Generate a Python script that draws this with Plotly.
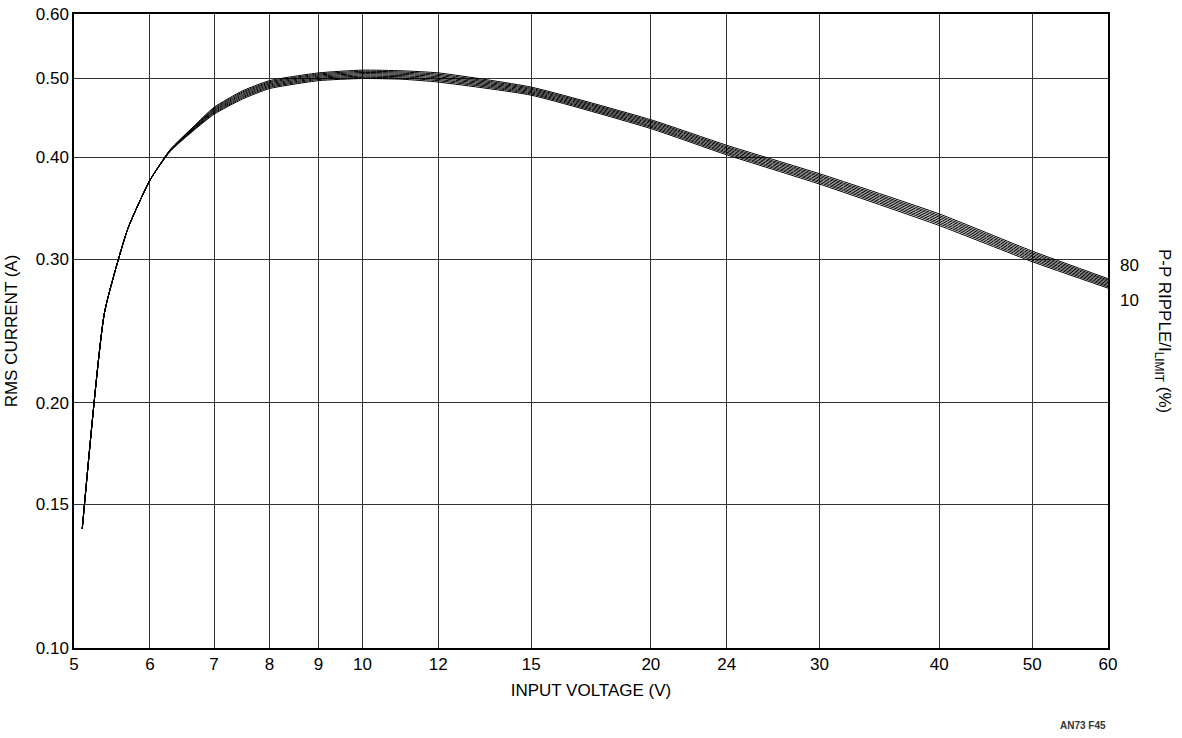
import math
import plotly.graph_objects as go

# input voltage (V)
vin = [5.1, 5.38, 5.69, 6.0, 6.3, 6.67, 7.0, 7.5, 8, 9, 10, 11, 12, 15, 20, 24, 30, 40, 50, 60]

# RMS current (A) for each p-p ripple / ILIMIT (%) curve
rms_10 = [0.140, 0.258, 0.327, 0.375, 0.4070, 0.4320, 0.4520, 0.4720, 0.4860, 0.4970, 0.5000, 0.4990, 0.4950, 0.4770, 0.4340, 0.4030, 0.3710, 0.3300, 0.2980, 0.2765]
rms_20 = [0.140, 0.258, 0.327, 0.375, 0.4073, 0.4327, 0.4533, 0.4736, 0.4876, 0.4986, 0.5017, 0.5007, 0.4969, 0.4786, 0.4356, 0.4046, 0.3726, 0.3316, 0.2993, 0.2776]
rms_30 = [0.140, 0.258, 0.327, 0.375, 0.4076, 0.4334, 0.4546, 0.4751, 0.4891, 0.5001, 0.5034, 0.5024, 0.4987, 0.4801, 0.4371, 0.4061, 0.3741, 0.3331, 0.3006, 0.2786]
rms_40 = [0.140, 0.258, 0.327, 0.375, 0.4079, 0.4341, 0.4559, 0.4767, 0.4907, 0.5017, 0.5051, 0.5041, 0.5006, 0.4817, 0.4387, 0.4077, 0.3757, 0.3347, 0.3019, 0.2797]
rms_50 = [0.140, 0.258, 0.327, 0.375, 0.4081, 0.4349, 0.4571, 0.4783, 0.4923, 0.5033, 0.5069, 0.5059, 0.5024, 0.4833, 0.4403, 0.4093, 0.3773, 0.3363, 0.3031, 0.2808]
rms_60 = [0.140, 0.258, 0.327, 0.375, 0.4084, 0.4356, 0.4584, 0.4799, 0.4939, 0.5049, 0.5086, 0.5076, 0.5043, 0.4849, 0.4419, 0.4109, 0.3789, 0.3379, 0.3044, 0.2819]
rms_70 = [0.140, 0.258, 0.327, 0.375, 0.4087, 0.4363, 0.4597, 0.4814, 0.4954, 0.5064, 0.5103, 0.5093, 0.5061, 0.4864, 0.4434, 0.4124, 0.3804, 0.3394, 0.3057, 0.2829]
rms_80 = [0.140, 0.258, 0.327, 0.375, 0.4090, 0.4370, 0.4610, 0.4830, 0.4970, 0.5080, 0.5120, 0.5110, 0.5080, 0.4880, 0.4450, 0.4140, 0.3820, 0.3410, 0.3070, 0.2840]

x_ticks = [5, 6, 7, 8, 9, 10, 12, 15, 20, 24, 30, 40, 50, 60]
y_ticks = [0.10, 0.15, 0.20, 0.30, 0.40, 0.50, 0.60]

FONT = "Liberation Sans Narrow, Arial Narrow, Liberation Sans, Arial"

fig = go.Figure()

for name, ys in [("10", rms_10), ("20", rms_20), ("30", rms_30), ("40", rms_40),
                 ("50", rms_50), ("60", rms_60), ("70", rms_70), ("80", rms_80)]:
    fig.add_trace(go.Scatter(
        x=vin, y=ys, name=name, mode="lines",
        line=dict(color="black", width=1.0, shape="spline", smoothing=0.5),
    ))

fig.update_xaxes(
    type="log", range=[math.log10(5), math.log10(60)],
    tickvals=x_ticks, ticktext=[str(v) for v in x_ticks],
    showgrid=True, gridcolor="#333", gridwidth=1,
    showline=True, linecolor="black", linewidth=1.5, mirror=True,
    ticks="", zeroline=False, automargin=False,
    title=dict(text="INPUT VOLTAGE (V)", font=dict(size=17), standoff=11),
)
fig.update_yaxes(
    type="log", range=[math.log10(0.1), math.log10(0.6)],
    tickvals=y_ticks, ticktext=[f"{v:.2f}" for v in y_ticks],
    showgrid=True, gridcolor="#333", gridwidth=1,
    showline=True, linecolor="black", linewidth=1.5, mirror=True,
    ticks="", zeroline=False, automargin=False,
    title=dict(text="RMS CURRENT (A)", font=dict(size=17), standoff=14),
)

# end labels for the curve family (log axis -> annotation y in log10 units)
fig.add_annotation(x=1.0, y=math.log10(rms_80[-1]), xref="paper", yref="y", text="80",
                   showarrow=False, xanchor="left", yanchor="bottom", xshift=10, yshift=2)
fig.add_annotation(x=1.0, y=math.log10(rms_10[-1]), xref="paper", yref="y", text="10",
                   showarrow=False, xanchor="left", yanchor="top", xshift=10, yshift=-1)
fig.add_annotation(x=1.0, y=0.5, xref="paper", yref="paper",
                   text="P-P RIPPLE/I<sub>LIMIT</sub> (%)", textangle=90,
                   showarrow=False, xanchor="center", yanchor="middle", xshift=55,
                   font=dict(size=17))
fig.add_annotation(x=1.0, y=0, xref="paper", yref="paper", text="<b>AN73 F45</b>",
                   showarrow=False, xanchor="right", yanchor="top", xshift=0, yshift=-70,
                   font=dict(size=10, color="#333"))

fig.update_layout(
    width=1182, height=738,
    showlegend=False,
    plot_bgcolor="white", paper_bgcolor="white",
    font=dict(family=FONT, size=17, color="black"),
    margin=dict(l=74, r=74, t=14, b=90, autoexpand=False),
)

fig.write_html("out.html", config={"displayModeBar": False},
               post_script="document.body.style.margin='0';")
